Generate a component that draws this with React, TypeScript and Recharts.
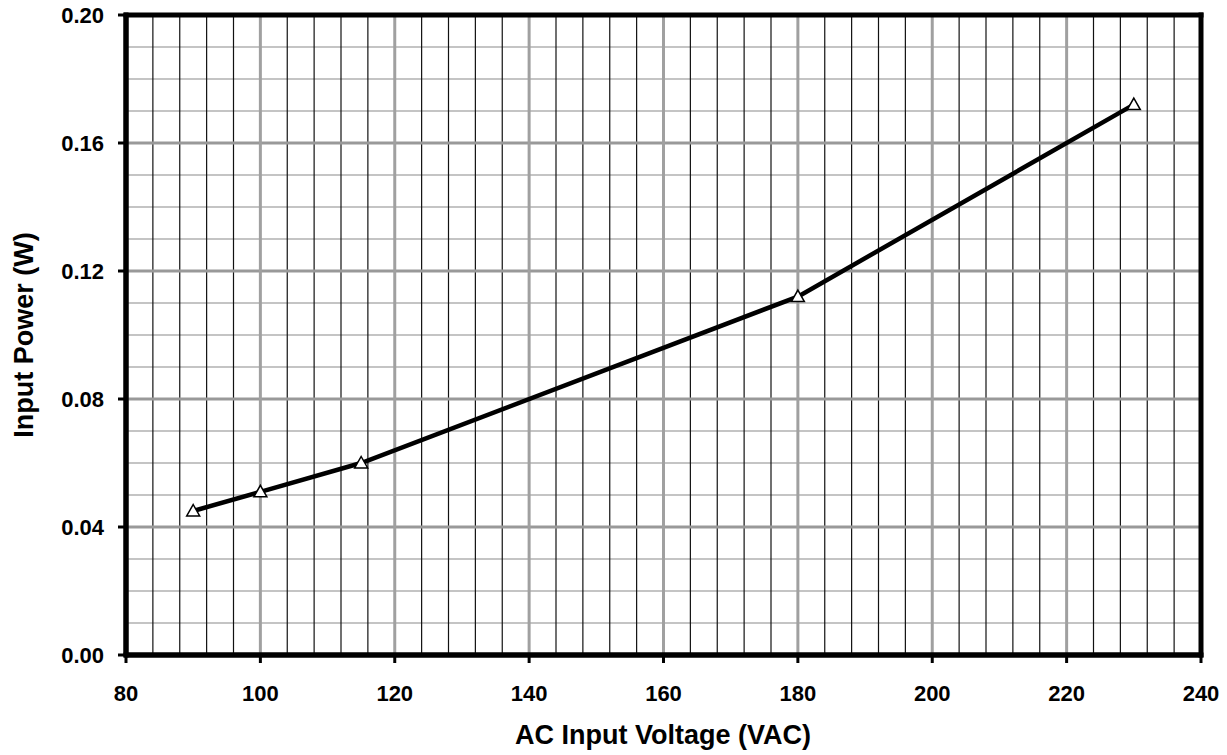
import { LineChart, Line, XAxis, YAxis, ReferenceLine } from 'recharts';

const voltages = [90, 100, 115, 180, 230];
const inputPower = [0.045, 0.051, 0.06, 0.112, 0.172];

const xTicks = [80, 100, 120, 140, 160, 180, 200, 220, 240];
const yTicks = [0, 0.04, 0.08, 0.12, 0.16, 0.2];

// minor grid: every 4 V and every 0.01 W
const xMinor: number[] = [];
for (let v = 84; v < 240; v += 4) if (v % 20 !== 0) xMinor.push(v);
const yMinor: number[] = [];
for (let i = 1; i < 20; i++) if (i % 4 !== 0) yMinor.push(i / 100);
// major grid inside the frame only
const xMajor = xTicks.slice(1, -1);
const yMajor = yTicks.slice(1, -1);

const data = voltages.map((v, i) => ({ voltage: v, power: inputPower[i] }));

const FONT = '"Liberation Sans", Arial, sans-serif';
const frame = { stroke: '#000', strokeWidth: 5 };

const TriangleDot = (props: any) => {
  const { cx, cy } = props;
  if (cx == null || cy == null) return null;
  return (
    <path
      d={`M${cx},${cy - 6.5} L${cx + 6.5},${cy + 5} L${cx - 6.5},${cy + 5} Z`}
      fill="#fff"
      stroke="#000"
      strokeWidth={1.5}
    />
  );
};

const XTick = (props: any) => {
  const { x, y, payload } = props;
  return (
    <text x={x} y={y + 36} textAnchor="middle" fontFamily={FONT} fontWeight="bold" fontSize={22} fill="#000">
      {payload.value}
    </text>
  );
};

const YTick = (props: any) => {
  const { x, y, payload } = props;
  return (
    <text x={x - 12} y={y + 8} textAnchor="end" fontFamily={FONT} fontWeight="bold" fontSize={22} fill="#000">
      {payload.value.toFixed(2)}
    </text>
  );
};

export default function App() {
  return (
    <div style={{ position: 'absolute', left: 0, top: 0, width: 1227, height: 755, background: '#fff' }}>
      <LineChart width={1227} height={755} data={data} margin={{ top: 15, right: 26, bottom: 40, left: 26 }}>
        {yMinor.map((v) => (
          <ReferenceLine key={'ym' + v} y={v} stroke="#c4c4c4" strokeWidth={2} />
        ))}
        {xMinor.map((v) => (
          <ReferenceLine key={'xm' + v} x={v} stroke="#111" strokeWidth={1.2} />
        ))}
        {yMajor.map((v) => (
          <ReferenceLine key={'yM' + v} y={v} stroke="#999" strokeWidth={3} />
        ))}
        {xMajor.map((v) => (
          <ReferenceLine key={'xM' + v} x={v} stroke="#a0a0a0" strokeWidth={3} />
        ))}
        {/* plot frame */}
        <ReferenceLine x={80} stroke="#000" strokeWidth={5} strokeLinecap="square" ifOverflow="visible" />
        <ReferenceLine x={240} stroke="#000" strokeWidth={5} strokeLinecap="square" ifOverflow="visible" />
        <ReferenceLine y={0} stroke="#000" strokeWidth={5} strokeLinecap="square" ifOverflow="visible" />
        <ReferenceLine y={0.2} stroke="#000" strokeWidth={5} strokeLinecap="square" ifOverflow="visible" />
        <XAxis
          type="number"
          dataKey="voltage"
          domain={[80, 240]}
          ticks={xTicks}
          height={60}
          tick={<XTick />}
          tickSize={8}
          axisLine={frame}
          tickLine={{ stroke: '#000', strokeWidth: 3 }}
          label={{
            content: () => (
              <text x={663} y={744} textAnchor="middle" fontFamily={FONT} fontWeight="bold" fontSize={27} fill="#000">
                AC Input Voltage (VAC)
              </text>
            ),
          }}
        />
        <YAxis
          type="number"
          dataKey="power"
          domain={[0, 0.2]}
          ticks={yTicks}
          width={100}
          tick={<YTick />}
          tickSize={8}
          axisLine={frame}
          tickLine={{ stroke: '#000', strokeWidth: 3 }}
          label={{
            content: () => (
              <text
                x={33}
                y={335}
                transform="rotate(-90 33 335)"
                textAnchor="middle"
                fontFamily={FONT}
                fontWeight="bold"
                fontSize={27}
                fill="#000"
              >
                Input Power (W)
              </text>
            ),
          }}
        />
        <Line
          type="linear"
          dataKey="power"
          stroke="#000"
          strokeWidth={4.5}
          dot={<TriangleDot />}
          activeDot={false}
          isAnimationActive={false}
        />
      </LineChart>
    </div>
  );
}
